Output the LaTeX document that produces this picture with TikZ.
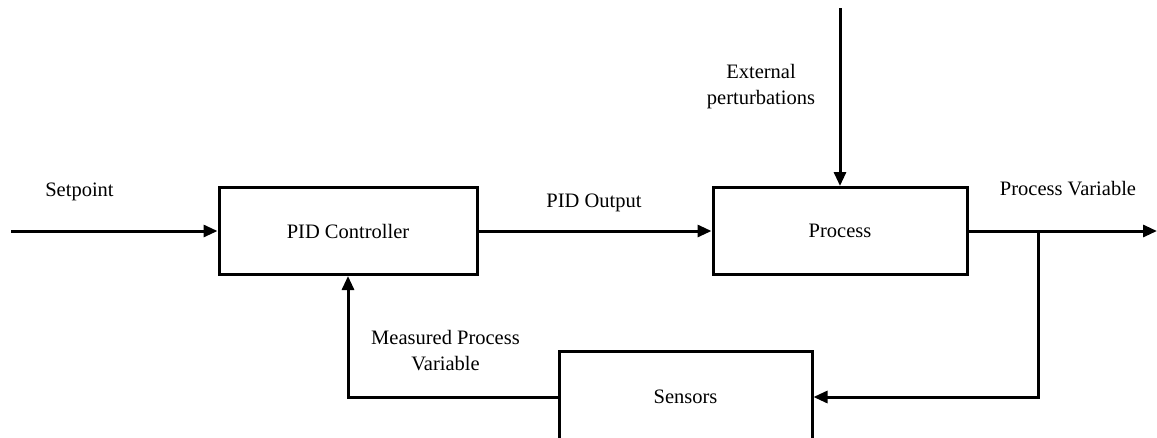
\documentclass[tikz,border=0pt]{standalone}
\usepackage{fontspec}
\setmainfont{Liberation Serif}
\newfontfamily\labelfont{Liberation Serif}
\usetikzlibrary{arrows.meta}

\begin{document}
\begin{tikzpicture}[x=1pt,y=-1pt,
  every node/.style={font=\labelfont\fontsize{20.5}{26}\selectfont, inner sep=0pt},
  block/.style={draw, line width=3pt, minimum height=87pt},
  wire/.style={line width=3pt},
  flow/.style={wire, -{Triangle[length=14pt,width=12pt]}},
  lbl/.style={anchor=base},
  mlbl/.style={align=center}]

  % page frame; the sensor block runs off the lower edge
  \clip (0,0) rectangle (1157,437);

  % blocks
  \node[block, minimum width=258pt] (pid) at (348,231) {PID Controller};
  \node[block, minimum width=254pt] (proc) at (840,231) {Process};
  \node[block, minimum width=253pt, minimum height=92pt] (sens) at (685.5,397) {Sensors};

  % free ends and branch point
  \coordinate (sp) at (11,231);
  \coordinate (dist) at (840,8);
  \coordinate (pvout) at (1157,231);
  \coordinate (tap) at (1038,231);

  % signal lines
  \draw[flow] (sp) -- (pid.west);
  \draw[flow] (pid.east) -- (proc.west);
  \draw[flow] (dist) -- (proc.north);
  \draw[flow] (proc.east) -- (pvout);
  \draw[flow] (tap) |- (sens.east);
  \draw[flow] (sens.west) -| (pid.south);

  % labels
  \node[lbl] (lsp) at (79.5,196) {Setpoint};
  \node[lbl] (lout) at (594,207) {PID Output};
  \node[lbl] (lpv) at (1068,195) {Process Variable};
  \node[mlbl] (ldist) at (761,86.5) {External\\perturbations};
  \node[mlbl] (lmpv) at (445.5,350.5) {Measured Process\\Variable};
\end{tikzpicture}
\end{document}
